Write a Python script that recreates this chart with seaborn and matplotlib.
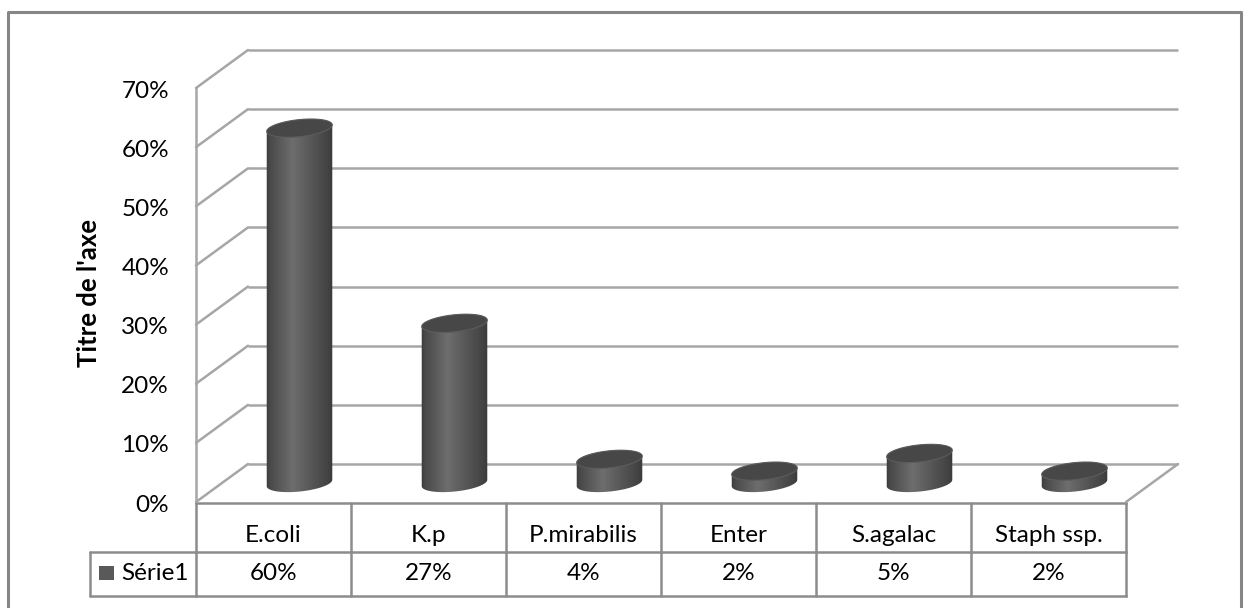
import numpy as np
import pandas as pd
import matplotlib
matplotlib.use("Agg")
import matplotlib.pyplot as plt
import matplotlib.transforms as mtransforms
from matplotlib.patches import Polygon, Rectangle
from matplotlib.lines import Line2D
import seaborn as sns

# ---- data -------------------------------------------------------------
categories = ["E.coli", "K.p", "P.mirabilis", "Enter", "S.agalac", "Staph ssp."]
values = [0.60, 0.27, 0.04, 0.02, 0.05, 0.02]
series_name = "Série1"
y_ticks = [0.0, 0.1, 0.2, 0.3, 0.4, 0.5, 0.6, 0.7]
axis_title = "Titre de l'axe"

# ---- style ------------------------------------------------------------
sns.set_style("white")
plt.rcParams["font.family"] = ["Lato", "DejaVu Sans"]
FS = 17.5
FS_TITLE = 18.5
GRID = "#a6a6a6"
TABLE = "#8c8c8c"

W, H = 1246, 608
fig = plt.figure(figsize=(W / 100, H / 100), dpi=100)


def fx(px):
    return px / W


def fy(py):
    return 1 - py / H


# axes = the mid-depth plane of the 3-D box
ax = fig.add_axes([fx(222), fy(483), fx(1152) - fx(222), fy(69) - fy(483)])
df = pd.DataFrame({"germe": categories, "part": values})
sns.barplot(data=df, x="germe", y="part", ax=ax, width=0.425,
            color="#555555", saturation=1)
ax.set_xlim(-0.5, len(categories) - 0.5)
ax.set_ylim(y_ticks[0], y_ticks[-1])
ax.axis("off")

# depth offsets (inches) for the back and front planes
dpt = fig.dpi_scale_trans
back = ax.transData + mtransforms.ScaledTranslation(0.26, 0.19, dpt)
front = ax.transData + mtransforms.ScaledTranslation(-0.26, -0.19, dpt)

x_lo, x_hi = ax.get_xlim()

# walls and floor
for v in y_ticks:
    ax.plot([x_lo, x_hi], [v, v], color=GRID, lw=1.8, transform=back,
            clip_on=False, zorder=1, solid_capstyle="butt")
    p_front = front.transform((x_lo, v))
    p_back = back.transform((x_lo, v))
    fig.add_artist(Line2D([p_front[0], p_back[0]], [p_front[1], p_back[1]],
                          transform=None, color=GRID, lw=1.8, zorder=1))
ax.plot([x_lo, x_lo], [y_ticks[0], y_ticks[-1]], color=GRID, lw=1.8,
        transform=front, clip_on=False, zorder=1)
pf = front.transform((x_hi, 0))
pb = back.transform((x_hi, 0))
fig.add_artist(Line2D([pf[0], pb[0]], [pf[1], pb[1]], transform=None,
                      color=GRID, lw=1.8, zorder=1))

# ---- cylinders built from the seaborn bars ----------------------------
sx = ax.bbox.width / (x_hi - x_lo)
sy = ax.bbox.height / (y_ticks[-1] - y_ticks[0])
theta = np.deg2rad(6)


def ellipse_pts(cx, cy, a, b, t):
    ex = cx + (a * np.cos(t) * np.cos(theta) - b * np.sin(t) * np.sin(theta)) / sx
    ey = cy + (a * np.cos(t) * np.sin(theta) + b * np.sin(t) * np.cos(theta)) / sy
    return np.column_stack([ex, ey])


# horizontal shading across a cylinder body
nodes = [0.0, 0.08, 0.40, 0.70, 0.92, 1.0]
levels = [0.22, 0.29, 0.43, 0.33, 0.26, 0.22]
prof = np.interp(np.linspace(0, 1, 256), nodes, levels)
grad = np.repeat(prof[None, :, None], 3, axis=2)
grad = np.repeat(grad, 2, axis=0)

for p in list(ax.patches):
    x0, w, h = p.get_x(), p.get_width(), p.get_height()
    p.set_visible(False)
    cx = x0 + w / 2
    a = w * sx / 2
    b = 8.5
    tr = np.arctan(-b * np.tan(theta) / a)
    tl = tr + np.pi
    bottom_arc = ellipse_pts(cx, 0, a, b, np.linspace(tl, tr + 2 * np.pi, 80))
    top_arc = ellipse_pts(cx, h, a, b, np.linspace(tr, tl, 80))
    body = Polygon(np.vstack([bottom_arc, top_arc]), closed=True,
                   facecolor="none", edgecolor="none", transform=ax.transData)
    ax.add_patch(body)
    body.set_clip_on(False)
    pad_y = 2 * b / sy
    im = ax.imshow(grad, extent=[cx - w / 2 - 0.01, cx + w / 2 + 0.01,
                                 -pad_y, h + pad_y],
                   aspect="auto", interpolation="bilinear", zorder=3)
    im.set_clip_box(fig.bbox)
    im.set_clip_path(body)
    top = Polygon(ellipse_pts(cx, h, a, b, np.linspace(0, 2 * np.pi, 120)),
                  closed=True, facecolor="#474747", edgecolor="#5c5c5c",
                  lw=0.8, transform=ax.transData, zorder=4, clip_on=False)
    ax.add_patch(top)

ax.set_xlim(x_lo, x_hi)
ax.set_ylim(y_ticks[0], y_ticks[-1])

# ---- value axis labels -------------------------------------------------
lab_tr = front + mtransforms.ScaledTranslation(-0.27, -0.03, dpt)
for v in y_ticks:
    ax.text(x_lo, v, f"{round(v * 100)}%", transform=lab_tr, ha="right",
            va="center", fontsize=FS, color="black", clip_on=False)
fig.text(fx(89), fy(293), axis_title, rotation=90, ha="center", va="center",
         fontsize=FS_TITLE, fontweight="bold", color="black")

# ---- data table ---------------------------------------------------------
tab = mtransforms.blended_transform_factory(front, fig.transFigure)
row_y = [fy(503), fy(552), fy(596)]
for yy in row_y:
    ax.plot([x_lo, x_hi], [yy, yy], color=TABLE, lw=1.8, transform=tab,
            clip_on=False, zorder=2, solid_capstyle="projecting")
for i in range(len(categories) + 1):
    xx = x_lo + i
    ax.plot([xx, xx], [row_y[0], row_y[2]], color=TABLE, lw=1.8,
            transform=tab, clip_on=False, zorder=2)
for i, (cat, val) in enumerate(zip(categories, values)):
    ax.text(i, fy(535), cat, transform=tab, ha="center", va="center",
            fontsize=FS, color="black", clip_on=False)
    ax.text(i, fy(573), f"{round(val * 100)}%", transform=tab, ha="center",
            va="center", fontsize=FS, color="black", clip_on=False)

# legend cell of the table
x_tab = front.transform((x_lo, 0))[0] / W
fig.add_artist(Line2D([fx(90), x_tab], [row_y[1], row_y[1]], color=TABLE, lw=1.8))
fig.add_artist(Line2D([fx(90), x_tab], [row_y[2], row_y[2]], color=TABLE, lw=1.8))
fig.add_artist(Line2D([fx(90), fx(90)], [row_y[1], row_y[2]], color=TABLE, lw=1.8))
fig.add_artist(Rectangle((fx(99), fy(580)), fx(15), 14 / H,
                         facecolor="#595959", edgecolor="none"))
fig.text(fx(121), fy(573), series_name, ha="left", va="center",
         fontsize=FS, color="black")

# chart area frame
fig.add_artist(Line2D([fx(8), fx(8), fx(1241), fx(1241)],
                      [fy(620), fy(12), fy(12), fy(620)],
                      color="#868686", lw=2.2))

fig.savefig("out.png", dpi=100, facecolor="white")
